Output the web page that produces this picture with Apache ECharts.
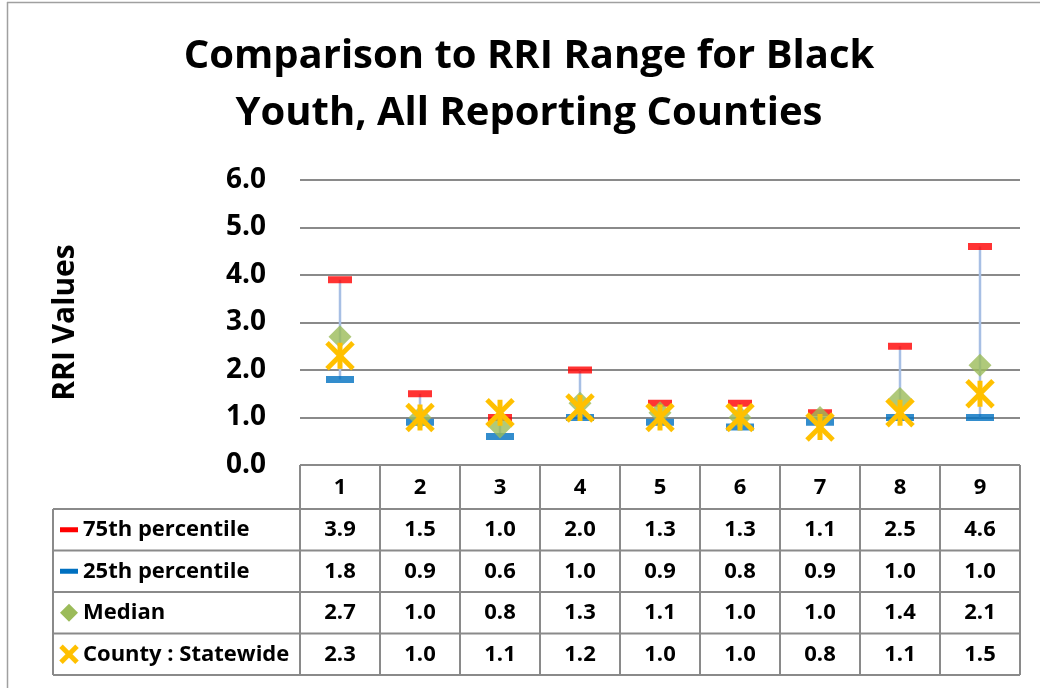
<!DOCTYPE html>
<html>
<head>
<meta charset="utf-8">
<script src="https://cdn.jsdelivr.net/npm/echarts@6/dist/echarts.min.js"></script>
<style>
  html, body { margin: 0; padding: 0; background: #ffffff; }
  #chart { width: 1040px; height: 688px; }
</style>
</head>
<body>
<div id="chart"></div>
<script>
// RRI comparison values per decision point (1-9)
const categories = ['1', '2', '3', '4', '5', '6', '7', '8', '9'];
const p75 = [3.9, 1.5, 1.0, 2.0, 1.3, 1.3, 1.1, 2.5, 4.6];
const p25 = [1.8, 0.9, 0.6, 1.0, 0.9, 0.8, 0.9, 1.0, 1.0];
const median = [2.7, 1.0, 0.8, 1.3, 1.1, 1.0, 1.0, 1.4, 2.1];
const countyStatewide = [2.3, 1.0, 1.1, 1.2, 1.0, 1.0, 0.8, 1.1, 1.5];
const yMin = 0, yMax = 6, yStep = 1;
const rowNames = ['75th percentile', '25th percentile', 'Median', 'County : Statewide'];
const rowValues = [p75, p25, median, countyStatewide];

const FONT = '"Open Sans", "DejaVu Sans", sans-serif';
const RED = '#FF0000', BLUE = '#0070C0', GREEN = '#9BBB59', GOLD = '#FFC000';
const LINE = '#8A8A8A';

const chart = echarts.init(document.getElementById('chart'), null, { renderer: 'canvas' });

const option = {
  animation: false,
  backgroundColor: '#ffffff',
  textStyle: { fontFamily: FONT },
  grid: { left: 300, right: 20, top: 180, bottom: 223, containLabel: false },
  xAxis: {
    type: 'category',
    data: categories,
    axisLine: { show: false },
    axisTick: { show: false },
    axisLabel: { margin: 12, fontSize: 22, fontWeight: 'bold', color: '#000', fontFamily: FONT },
    splitLine: { show: false }
  },
  yAxis: {
    type: 'value',
    min: yMin, max: yMax, interval: yStep,
    name: 'RRI Values',
    nameLocation: 'middle',
    nameRotate: 90,
    nameGap: 220,
    nameTextStyle: { fontSize: 30, fontWeight: 'bold', color: '#000', fontFamily: FONT },
    axisLine: { show: false },
    axisTick: { show: false },
    axisLabel: {
      margin: 34, fontSize: 28, fontWeight: 'bold', color: '#000', fontFamily: FONT,
      formatter: v => v.toFixed(1)
    },
    splitLine: { show: true, lineStyle: { color: LINE, width: 2 } }
  },
  series: [
    {
      // high-low connector between the 25th and 75th percentiles
      type: 'custom',
      name: 'range',
      z: 1,
      data: categories.map((c, i) => [i, p25[i], p75[i]]),
      encode: { x: 0, y: [1, 2] },
      renderItem: (params, api) => {
        const lo = api.coord([api.value(0), api.value(1)]);
        const hi = api.coord([api.value(0), api.value(2)]);
        return {
          type: 'line',
          shape: { x1: lo[0], y1: lo[1], x2: hi[0], y2: hi[1] },
          style: { stroke: '#A7BFE4', lineWidth: 2.5 }
        };
      }
    },
    {
      type: 'scatter', name: rowNames[0], z: 2,
      data: p75, symbol: 'rect', symbolSize: [24, 7],
      itemStyle: { color: RED }
    },
    {
      type: 'scatter', name: rowNames[1], z: 3,
      data: p25, symbol: 'rect', symbolSize: [28, 7],
      itemStyle: { color: BLUE }
    },
    {
      type: 'scatter', name: rowNames[2], z: 4,
      data: median, symbol: 'diamond', symbolSize: 23,
      itemStyle: { color: GREEN }
    },
    {
      // star marker: an X crossed by a vertical stroke
      type: 'custom', name: rowNames[3], z: 5,
      data: countyStatewide.map((v, i) => [i, v]),
      encode: { x: 0, y: 1 },
      renderItem: (params, api) => {
        const p = api.coord([api.value(0), api.value(1)]);
        const h = 13;
        const st = { stroke: GOLD, lineWidth: 5 };
        return {
          type: 'group',
          children: [
            { type: 'line', shape: { x1: p[0] - h, y1: p[1] - h, x2: p[0] + h, y2: p[1] + h }, style: st },
            { type: 'line', shape: { x1: p[0] - h, y1: p[1] + h, x2: p[0] + h, y2: p[1] - h }, style: st },
            { type: 'line', shape: { x1: p[0], y1: p[1] - h, x2: p[0], y2: p[1] + h }, style: st }
          ]
        };
      }
    }
  ]
};

chart.setOption(option);

// Data table under the plot, aligned with the category bands
function buildTable() {
  const c0 = chart.convertToPixel({ xAxisIndex: 0 }, 0);
  const c1 = chart.convertToPixel({ xAxisIndex: 0 }, 1);
  const band = c1 - c0;
  const xLeft = c0 - band / 2;
  const xRight = xLeft + band * categories.length;
  const top = chart.convertToPixel({ yAxisIndex: 0 }, yMin);
  const headerBottom = top + 44;
  const rowH = 41.5;
  const labelLeft = 53;
  const els = [];
  const lineStyle = { stroke: LINE, lineWidth: 2 };
  const hline = (x1, x2, y) => els.push({ type: 'line', shape: { x1, y1: y, x2, y2: y }, style: lineStyle, z: 10 });
  const vline = (x, y1, y2) => els.push({ type: 'line', shape: { x1: x, y1, x2: x, y2 }, style: lineStyle, z: 10 });

  const bottom = headerBottom + rowH * rowNames.length;
  hline(xLeft, xRight, top);
  for (let r = 0; r <= rowNames.length; r++) hline(labelLeft, xRight, headerBottom + rowH * r);
  for (let c = 0; c <= categories.length; c++) vline(xLeft + band * c, top, bottom);
  vline(labelLeft, headerBottom, bottom);

  rowNames.forEach((name, r) => {
    const cy = headerBottom + rowH * (r + 0.5);
    els.push({
      type: 'text', z: 11,
      style: { x: 83, y: cy, text: name, fontFamily: FONT, fontSize: 22, fontWeight: 'bold', fill: '#000', verticalAlign: 'middle', align: 'left' }
    });
    rowValues[r].forEach((v, i) => {
      els.push({
        type: 'text', z: 11,
        style: { x: c0 + band * i, y: cy, text: v.toFixed(1), fontFamily: FONT, fontSize: 22, fontWeight: 'bold', fill: '#000', verticalAlign: 'middle', align: 'center' }
      });
    });
  });

  // legend keys in the first column
  const kx = 69;
  const ky = r => headerBottom + rowH * (r + 0.5);
  els.push({ type: 'rect', z: 11, shape: { x: kx - 9, y: ky(0) - 2.5, width: 18, height: 5 }, style: { fill: RED } });
  els.push({ type: 'rect', z: 11, shape: { x: kx - 9, y: ky(1) - 2.5, width: 18, height: 5 }, style: { fill: BLUE } });
  els.push({ type: 'polygon', z: 11, shape: { points: [[kx, ky(2) - 9], [kx + 9, ky(2)], [kx, ky(2) + 9], [kx - 9, ky(2)]] }, style: { fill: GREEN } });
  const k3 = ky(3), kh = 8;
  els.push({ type: 'line', z: 11, shape: { x1: kx - kh, y1: k3 - kh, x2: kx + kh, y2: k3 + kh }, style: { stroke: GOLD, lineWidth: 5 } });
  els.push({ type: 'line', z: 11, shape: { x1: kx - kh, y1: k3 + kh, x2: kx + kh, y2: k3 - kh }, style: { stroke: GOLD, lineWidth: 5 } });

  // title
  els.push({ type: 'text', z: 11, style: { x: 529, y: 57, text: 'Comparison to RRI Range for Black', fontFamily: FONT, fontSize: 40, fontWeight: 'bold', fill: '#000', align: 'center', verticalAlign: 'middle' } });
  els.push({ type: 'text', z: 11, style: { x: 529, y: 114, text: 'Youth, All Reporting Counties', fontFamily: FONT, fontSize: 40, fontWeight: 'bold', fill: '#000', align: 'center', verticalAlign: 'middle' } });

  // chart frame
  els.push({ type: 'line', z: 12, shape: { x1: 7.5, y1: 2, x2: 7.5, y2: 688 }, style: { stroke: '#A0A0A0', lineWidth: 1.5 } });
  els.push({ type: 'line', z: 12, shape: { x1: 7, y1: 2.5, x2: 1040, y2: 2.5 }, style: { stroke: '#A0A0A0', lineWidth: 1.5 } });

  chart.setOption({ graphic: { elements: els } });
}
buildTable();
</script>
</body>
</html>
